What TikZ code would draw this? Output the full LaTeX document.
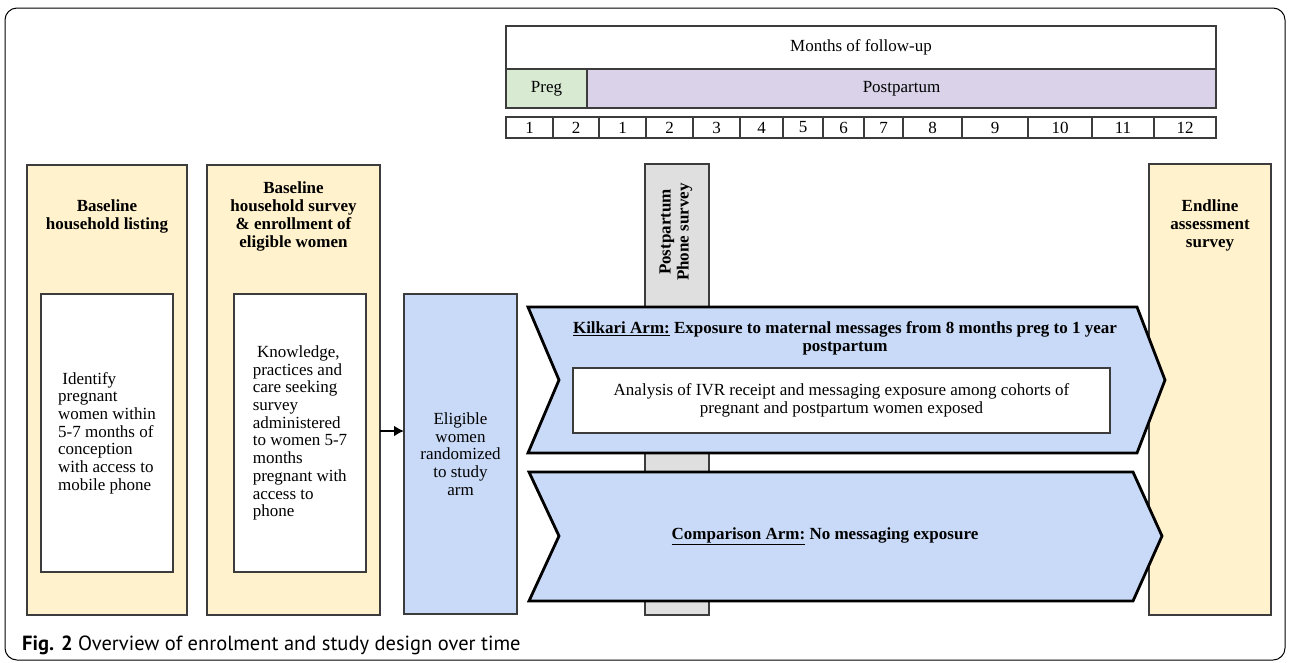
\documentclass[tikz,border=0pt]{standalone}
\usepackage{fontspec}
\setmainfont{Liberation Serif}
\newfontfamily\capfont{PT Sans}
\usetikzlibrary{positioning,arrows.meta}

\definecolor{boxyellow}{HTML}{FFF2CC}
\definecolor{boxblue}{HTML}{C9DAF8}
\definecolor{bargrey}{HTML}{DFDFDF}
\definecolor{preggreen}{HTML}{D9EAD3}
\definecolor{postlilac}{HTML}{D9D2E9}
\definecolor{edgegrey}{HTML}{3C3C3C}

\tikzset{
  stage/.style={draw=edgegrey, line width=2.5pt, inner sep=0pt, outer sep=0pt},
  stagetitle/.style={align=center, font=\fontsize{17}{18}\selectfont\bfseries, inner sep=0pt},
  armshape/.style={draw=black, fill=boxblue, line width=2.8pt, line join=miter},
}

\begin{document}
\begin{tikzpicture}[x=1pt,y=-1pt,font=\fontsize{17}{17.7}\selectfont]
\useasboundingbox (0,0) rectangle (1289,662);
\draw[line width=1pt, rounded corners=12pt] (5,8) rectangle (1285,660);

% months of follow-up
\begin{scope}[every node/.style={draw=edgegrey, line width=1.2pt, inner sep=0pt, outer sep=0pt}]
  \node[minimum width=710, minimum height=43] (months) at (861,47.5) {Months of follow-up};
  \node[fill=preggreen, minimum width=81, minimum height=39, anchor=north west] (preg) at (months.south west) {Preg};
  \node[fill=postlilac, minimum width=629, minimum height=39, anchor=north west] (post) at (preg.north east) {Postpartum};
  \foreach \a/\b/\n [count=\i] in {506/553/1, 553/599/2, 599/646/1, 646/693/2, 693/740/3, 740/783/4,
      783/823/5, 823/864/6, 864/903/7, 903/962/8, 962/1028/9, 1028/1092/10, 1092/1154/11, 1154/1216/12}
    \node[minimum width={\b-\a}, minimum height=21] (m\i) at ({(\a+\b)/2},127.5) {\n};
\end{scope}

% baseline boxes
\node[stage, fill=boxyellow, minimum width=160, minimum height=450] (base1) at (107,390) {};
\node[stagetitle] (base1t) at (107,216) {Baseline\\household listing};
\node[stage, fill=white, minimum width=132, minimum height=278, align=left] (listing) at (107,433)
  {\ Identify\\pregnant\\women within\\5-7 months of\\conception\\with access to\\mobile phone};

\node[stage, fill=boxyellow, minimum width=173, minimum height=450] (base2) at (293.5,390) {};
\node[stagetitle] (base2t) at (293.5,216) {Baseline\\household survey\\\& enrollment of\\eligible women};
\node[stage, fill=white, minimum width=132, minimum height=278, align=left] (kap) at (300,433)
  {\ Knowledge,\\practices and\\care seeking\\survey\\administered\\to women 5-7\\months\\pregnant with\\access to\\phone};

\node[stage, fill=boxblue, minimum width=113, minimum height=320, align=center] (elig) at (460.5,454)
  {Eligible\\women\\randomized\\to study\\arm};
\coordinate (eligin) at (404,431);
\draw[line width=2.6pt, -{Latex[length=10pt,width=11pt]}] (base2.east |- eligin) -- (eligin);

% endline and phone survey
\node[stage, fill=boxyellow, minimum width=122, minimum height=451] (endline) at (1210,389.5) {};
\node[stagetitle] (endlinet) at (1210,225) {Endline\\assessment\\survey};

\node[stage, fill=bargrey, minimum width=64, minimum height=451] (phone) at (677,389.5) {};
\node[stagetitle, rotate=90] (phonet) at (676,232) {Postpartum\\Phone survey};

% study arms
\draw[armshape] (528,307) -- (1137,307) -- (1165,380) -- (1137,453) -- (528,453) -- (559,380) -- cycle;
\node[stagetitle] (kilkari) at (845,338)
  {\underline{Kilkari Arm:} Exposure to maternal messages from 8 months preg to 1 year\\postpartum};
\node[stage, fill=white, minimum width=537, minimum height=65, align=center] (ivr) at (841.5,400.5)
  {Analysis of IVR receipt and messaging exposure among cohorts of\\pregnant and postpartum women exposed};

\draw[armshape] (529,472) -- (1133,472) -- (1162,536) -- (1133,601) -- (529,601) -- (559,536) -- cycle;
\node[stagetitle] (compare) at (825,536) {\underline{Comparison Arm:} No messaging exposure};

\node[anchor=base west, inner sep=0pt, font=\capfont\fontsize{20.5}{24}\selectfont] (caption) at (22,650)
  {\textbf{Fig. 2} Overview of enrolment and study design over time};
\end{tikzpicture}
\end{document}
